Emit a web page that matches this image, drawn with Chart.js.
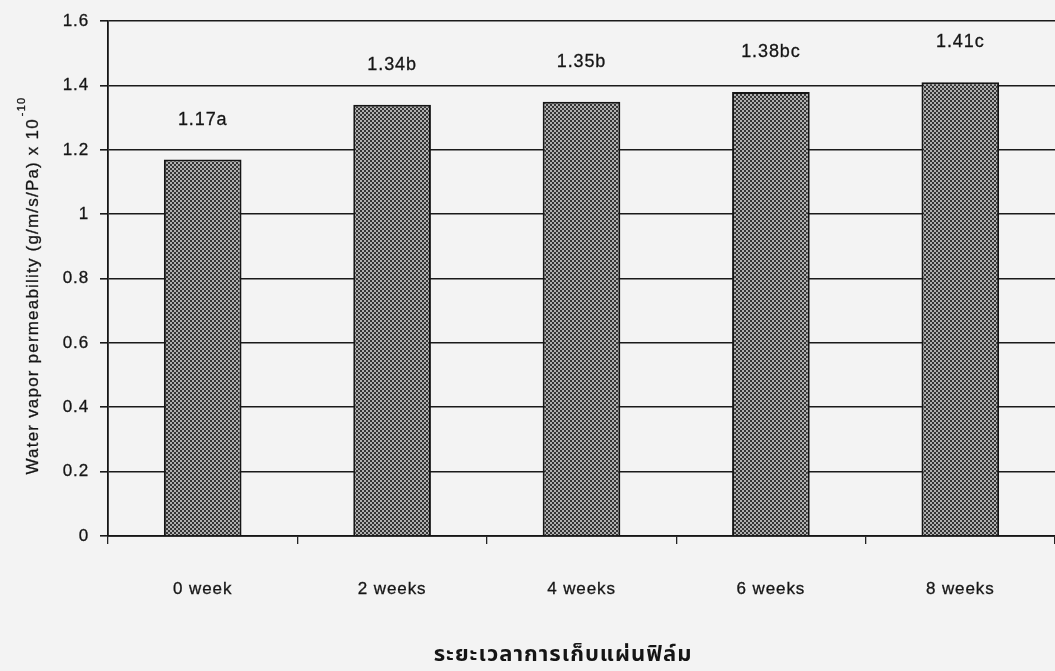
<!DOCTYPE html>
<html>
<head>
<meta charset="utf-8">
<script src="https://cdn.jsdelivr.net/npm/chart.js@4.4.1/dist/chart.umd.min.js"></script>
<style>
  html, body { margin: 0; padding: 0; background: #f3f3f3; overflow: hidden; }
  #wrap { width: 1055px; height: 671px; position: relative; }
</style>
</head>
<body>
<div id="wrap"><canvas id="c" width="1055" height="671"></canvas></div>
<script>
// Storage time of the film and measured water vapour permeability
const categories = ['0 week', '2 weeks', '4 weeks', '6 weeks', '8 weeks'];
const wvpValues = [1.17, 1.34, 1.35, 1.38, 1.41];
const groupLetters = ['a', 'b', 'b', 'bc', 'c'];
const yTicks = [0, 0.2, 0.4, 0.6, 0.8, 1, 1.2, 1.4, 1.6];
const yTitleMain = 'Water vapor permeability (g/m/s/Pa) x 10';
const yTitleExp = '-10';
const xTitle = 'ระยะเวลาการเก็บแผ่นฟิล์ม';

const FONT = '"Liberation Sans", Arial, sans-serif';
const THAI_FONT = '"Noto Sans Thai", "Noto Sans Thai Looped", Loma, Garuda, Tahoma, sans-serif';
const INK = '#151515';
const SPACING = '0.9px';
const STROKE = 0.3;

// dithered grey fill for the bars
function makePattern() {
  const p = document.createElement('canvas');
  p.width = 4; p.height = 4;
  const g = p.getContext('2d');
  g.fillStyle = '#353535';
  g.fillRect(0, 0, 4, 4);
  g.fillStyle = '#b0b0b0';
  g.fillRect(0, 0, 2, 2);
  g.fillRect(2, 2, 2, 2);
  return g.createPattern(p, 'repeat');
}

// filled text with a thin outline of the same ink, for a slightly heavier look
function inkText(c, text, x, y) {
  c.fillText(text, x, y);
  c.strokeText(text, x, y);
}

const ctx = document.getElementById('c').getContext('2d');

const annotate = {
  id: 'annotate',
  beforeDraw(chart) {
    chart.ctx.letterSpacing = SPACING;
  },
  afterDatasetsDraw(chart) {
    const c = chart.ctx;
    const meta = chart.getDatasetMeta(0);
    c.save();
    c.letterSpacing = SPACING;
    c.fillStyle = INK;
    c.strokeStyle = INK;
    c.lineWidth = STROKE;
    c.font = '18px ' + FONT;
    c.textAlign = 'center';
    c.textBaseline = 'middle';
    meta.data.forEach((bar, i) => {
      inkText(c, wvpValues[i].toFixed(2) + groupLetters[i], bar.x, bar.y - 40);
    });
    c.restore();
  },
  afterDraw(chart) {
    const c = chart.ctx;
    const area = chart.chartArea;
    c.save();
    // rotated y-axis title with superscript exponent
    c.fillStyle = INK;
    c.strokeStyle = INK;
    c.lineWidth = STROKE;
    c.letterSpacing = '1.2px';
    c.translate(33, (area.top + area.bottom) / 2 + 7);
    c.rotate(-Math.PI / 2);
    c.font = '17px ' + FONT;
    const wMain = c.measureText(yTitleMain).width;
    c.font = '11px ' + FONT;
    const wExp = c.measureText(yTitleExp).width;
    const start = -(wMain + wExp + 2) / 2;
    c.textBaseline = 'middle';
    c.textAlign = 'left';
    c.font = '17px ' + FONT;
    inkText(c, yTitleMain, start, 0);
    c.font = '11px ' + FONT;
    inkText(c, yTitleExp, start + wMain + 2, -11);
    c.restore();

    // x-axis title
    c.save();
    c.fillStyle = INK;
    c.letterSpacing = '1px';
    c.font = 'bold 22px ' + THAI_FONT;
    c.textAlign = 'center';
    c.textBaseline = 'middle';
    c.fillText(xTitle, 563, 657);
    c.restore();
  }
};

new Chart(ctx, {
  type: 'bar',
  data: {
    labels: categories,
    datasets: [{
      data: wvpValues,
      backgroundColor: makePattern(),
      borderColor: INK,
      borderWidth: 2,
      borderSkipped: 'bottom',
      barPercentage: 0.41,
      categoryPercentage: 1.0
    }]
  },
  options: {
    responsive: false,
    animation: false,
    devicePixelRatio: 1,
    layout: { padding: { top: 20, right: 0, left: 0, bottom: 0 } },
    plugins: { legend: { display: false }, tooltip: { enabled: false } },
    scales: {
      x: {
        offset: true,
        grid: { drawOnChartArea: false, drawTicks: true, tickLength: 8, color: '#222', lineWidth: 1.3 },
        border: { display: true, color: INK, width: 1.8 },
        ticks: {
          color: INK, font: { family: FONT, size: 17 }, padding: 35,
          textStrokeColor: INK, textStrokeWidth: STROKE
        },
        afterFit(s) { s.height = 135; }
      },
      y: {
        min: 0, max: 1.6,
        afterBuildTicks(s) { s.ticks = yTicks.map(v => ({ value: v })); },
        grid: { color: '#1a1a1a', lineWidth: 1.6, tickLength: 8 },
        border: { display: true, color: INK, width: 1.8 },
        ticks: {
          color: INK, font: { family: FONT, size: 17 }, padding: 11,
          textStrokeColor: INK, textStrokeWidth: STROKE,
          callback: v => String(v)
        },
        afterFit(s) { s.width = 108; }
      }
    }
  },
  plugins: [annotate]
});
</script>
</body>
</html>
